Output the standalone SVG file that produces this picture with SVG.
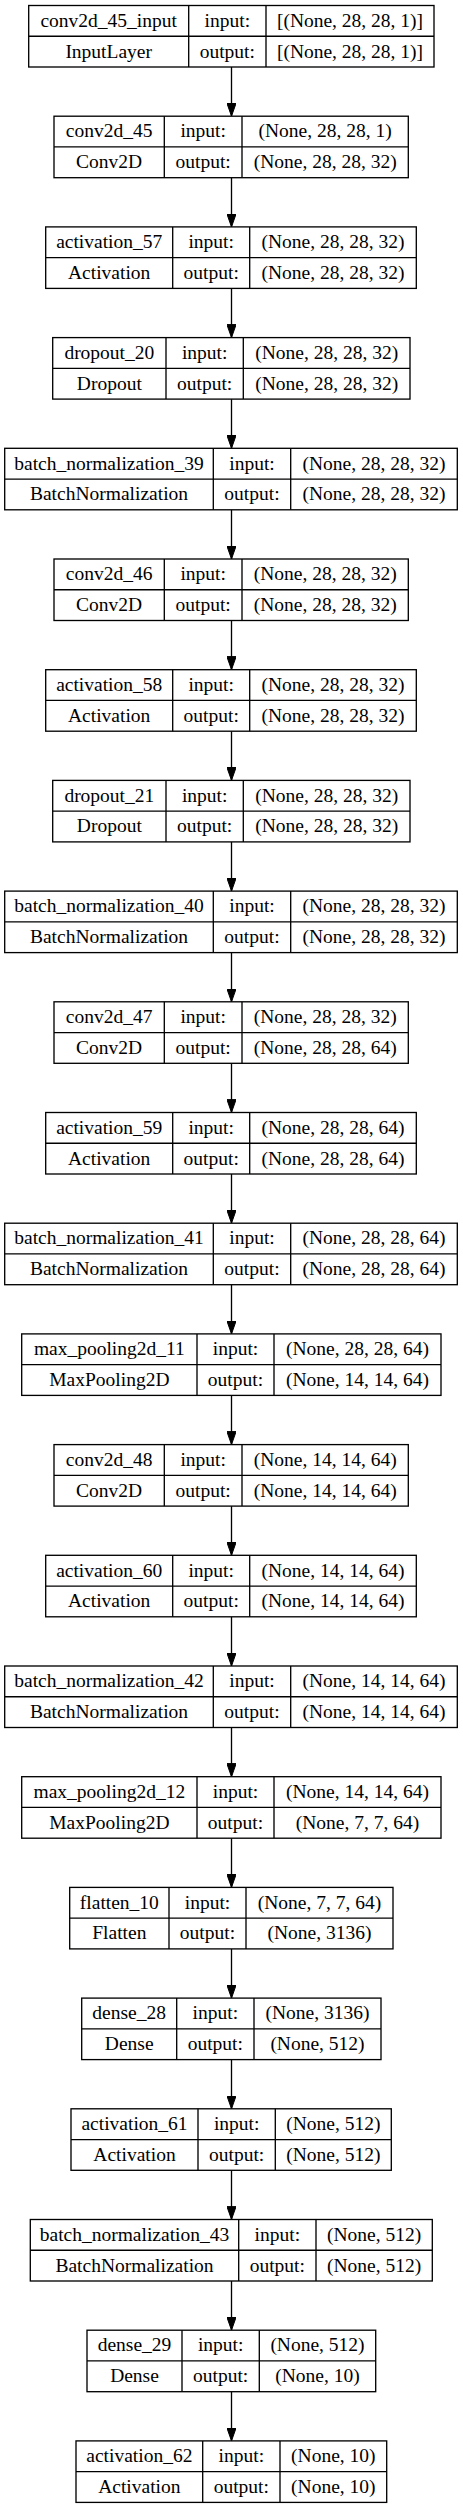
<svg xmlns="http://www.w3.org/2000/svg" width="463" height="2508" viewBox="0 0 463 2508">
<style>
rect.b{fill:#fff;stroke:#000;stroke-width:1.33}
path.d{fill:none;stroke:#000;stroke-width:1.33}
text{font-family:"Liberation Serif","Times New Roman",serif;font-size:19.5px;text-anchor:middle;fill:#000}
.e{stroke:#000;stroke-width:1.33;fill:none}
</style>
<defs>
<marker id="arr" viewBox="0 0 13.3 9.4" refX="13.3" refY="4.7" markerWidth="13.3" markerHeight="9.4" orient="auto" markerUnits="userSpaceOnUse"><path d="M0,0 L13.3,4.7 L0,9.4 z" fill="#000" stroke="#000" stroke-width="1"/></marker>
</defs>
<rect width="463" height="2508" fill="#fff"/>
<g id="connectors">
<line class="e" x1="231.5" y1="67" x2="231.5" y2="116.2" marker-end="url(#arr)"/>
<line class="e" x1="231.5" y1="177.7" x2="231.5" y2="226.9" marker-end="url(#arr)"/>
<line class="e" x1="231.5" y1="288.4" x2="231.5" y2="337.6" marker-end="url(#arr)"/>
<line class="e" x1="231.5" y1="399.1" x2="231.5" y2="448.3" marker-end="url(#arr)"/>
<line class="e" x1="231.5" y1="509.8" x2="231.5" y2="559" marker-end="url(#arr)"/>
<line class="e" x1="231.5" y1="620.5" x2="231.5" y2="669.7" marker-end="url(#arr)"/>
<line class="e" x1="231.5" y1="731.2" x2="231.5" y2="780.4" marker-end="url(#arr)"/>
<line class="e" x1="231.5" y1="841.9" x2="231.5" y2="891.1" marker-end="url(#arr)"/>
<line class="e" x1="231.5" y1="952.6" x2="231.5" y2="1001.8" marker-end="url(#arr)"/>
<line class="e" x1="231.5" y1="1063.3" x2="231.5" y2="1112.5" marker-end="url(#arr)"/>
<line class="e" x1="231.5" y1="1174" x2="231.5" y2="1223.2" marker-end="url(#arr)"/>
<line class="e" x1="231.5" y1="1284.7" x2="231.5" y2="1333.9" marker-end="url(#arr)"/>
<line class="e" x1="231.5" y1="1395.4" x2="231.5" y2="1444.6" marker-end="url(#arr)"/>
<line class="e" x1="231.5" y1="1506.1" x2="231.5" y2="1555.3" marker-end="url(#arr)"/>
<line class="e" x1="231.5" y1="1616.8" x2="231.5" y2="1666" marker-end="url(#arr)"/>
<line class="e" x1="231.5" y1="1727.5" x2="231.5" y2="1776.7" marker-end="url(#arr)"/>
<line class="e" x1="231.5" y1="1838.2" x2="231.5" y2="1887.4" marker-end="url(#arr)"/>
<line class="e" x1="231.5" y1="1948.9" x2="231.5" y2="1998.1" marker-end="url(#arr)"/>
<line class="e" x1="231.5" y1="2059.6" x2="231.5" y2="2108.8" marker-end="url(#arr)"/>
<line class="e" x1="231.5" y1="2170.3" x2="231.5" y2="2219.5" marker-end="url(#arr)"/>
<line class="e" x1="231.5" y1="2281" x2="231.5" y2="2330.2" marker-end="url(#arr)"/>
<line class="e" x1="231.5" y1="2391.7" x2="231.5" y2="2440.9" marker-end="url(#arr)"/>
</g>

<g id="conv2d_45_input" transform="translate(0,5.5)">
<rect class="b" x="28.7" y="0" width="405.3" height="61.5"/>
<path class="d" d="M28.7,30.75H434M188.7,0V61.5M266,0V61.5"/>
<text x="108.7" y="21.3">conv2d_45_input</text><text x="227.35" y="21.3">input:</text><text x="350" y="21.3">[(None, 28, 28, 1)]</text>
<text x="108.7" y="52">InputLayer</text><text x="227.35" y="52">output:</text><text x="350" y="52">[(None, 28, 28, 1)]</text>
</g>

<g id="conv2d_45" transform="translate(0,116.2)">
<rect class="b" x="54" y="0" width="354.3" height="61.5"/>
<path class="d" d="M54,30.75H408.3M164.3,0V61.5M242,0V61.5"/>
<text x="109.15" y="21.3">conv2d_45</text><text x="203.15" y="21.3">input:</text><text x="325.15" y="21.3">(None, 28, 28, 1)</text>
<text x="109.15" y="52">Conv2D</text><text x="203.15" y="52">output:</text><text x="325.15" y="52">(None, 28, 28, 32)</text>
</g>

<g id="activation_57" transform="translate(0,226.9)">
<rect class="b" x="45.7" y="0" width="370.6" height="61.5"/>
<path class="d" d="M45.7,30.75H416.3M172.7,0V61.5M249.7,0V61.5"/>
<text x="109.2" y="21.3">activation_57</text><text x="211.2" y="21.3">input:</text><text x="333" y="21.3">(None, 28, 28, 32)</text>
<text x="109.2" y="52">Activation</text><text x="211.2" y="52">output:</text><text x="333" y="52">(None, 28, 28, 32)</text>
</g>

<g id="dropout_20" transform="translate(0,337.6)">
<rect class="b" x="52.7" y="0" width="357.3" height="61.5"/>
<path class="d" d="M52.7,30.75H410M166,0V61.5M243.3,0V61.5"/>
<text x="109.35" y="21.3">dropout_20</text><text x="204.65" y="21.3">input:</text><text x="326.65" y="21.3">(None, 28, 28, 32)</text>
<text x="109.35" y="52">Dropout</text><text x="204.65" y="52">output:</text><text x="326.65" y="52">(None, 28, 28, 32)</text>
</g>

<g id="batch_normalization_39" transform="translate(0,448.3)">
<rect class="b" x="4.7" y="0" width="452.6" height="61.5"/>
<path class="d" d="M4.7,30.75H457.3M213.3,0V61.5M290.7,0V61.5"/>
<text x="109" y="21.3">batch_normalization_39</text><text x="252" y="21.3">input:</text><text x="374" y="21.3">(None, 28, 28, 32)</text>
<text x="109" y="52">BatchNormalization</text><text x="252" y="52">output:</text><text x="374" y="52">(None, 28, 28, 32)</text>
</g>

<g id="conv2d_46" transform="translate(0,559)">
<rect class="b" x="54" y="0" width="354.3" height="61.5"/>
<path class="d" d="M54,30.75H408.3M164.3,0V61.5M242,0V61.5"/>
<text x="109.15" y="21.3">conv2d_46</text><text x="203.15" y="21.3">input:</text><text x="325.15" y="21.3">(None, 28, 28, 32)</text>
<text x="109.15" y="52">Conv2D</text><text x="203.15" y="52">output:</text><text x="325.15" y="52">(None, 28, 28, 32)</text>
</g>

<g id="activation_58" transform="translate(0,669.7)">
<rect class="b" x="45.7" y="0" width="370.6" height="61.5"/>
<path class="d" d="M45.7,30.75H416.3M172.7,0V61.5M249.7,0V61.5"/>
<text x="109.2" y="21.3">activation_58</text><text x="211.2" y="21.3">input:</text><text x="333" y="21.3">(None, 28, 28, 32)</text>
<text x="109.2" y="52">Activation</text><text x="211.2" y="52">output:</text><text x="333" y="52">(None, 28, 28, 32)</text>
</g>

<g id="dropout_21" transform="translate(0,780.4)">
<rect class="b" x="52.7" y="0" width="357.3" height="61.5"/>
<path class="d" d="M52.7,30.75H410M166,0V61.5M243.3,0V61.5"/>
<text x="109.35" y="21.3">dropout_21</text><text x="204.65" y="21.3">input:</text><text x="326.65" y="21.3">(None, 28, 28, 32)</text>
<text x="109.35" y="52">Dropout</text><text x="204.65" y="52">output:</text><text x="326.65" y="52">(None, 28, 28, 32)</text>
</g>

<g id="batch_normalization_40" transform="translate(0,891.1)">
<rect class="b" x="4.7" y="0" width="452.6" height="61.5"/>
<path class="d" d="M4.7,30.75H457.3M213.3,0V61.5M290.7,0V61.5"/>
<text x="109" y="21.3">batch_normalization_40</text><text x="252" y="21.3">input:</text><text x="374" y="21.3">(None, 28, 28, 32)</text>
<text x="109" y="52">BatchNormalization</text><text x="252" y="52">output:</text><text x="374" y="52">(None, 28, 28, 32)</text>
</g>

<g id="conv2d_47" transform="translate(0,1001.8)">
<rect class="b" x="54" y="0" width="354.3" height="61.5"/>
<path class="d" d="M54,30.75H408.3M164.3,0V61.5M242,0V61.5"/>
<text x="109.15" y="21.3">conv2d_47</text><text x="203.15" y="21.3">input:</text><text x="325.15" y="21.3">(None, 28, 28, 32)</text>
<text x="109.15" y="52">Conv2D</text><text x="203.15" y="52">output:</text><text x="325.15" y="52">(None, 28, 28, 64)</text>
</g>

<g id="activation_59" transform="translate(0,1112.5)">
<rect class="b" x="45.7" y="0" width="370.6" height="61.5"/>
<path class="d" d="M45.7,30.75H416.3M172.7,0V61.5M249.7,0V61.5"/>
<text x="109.2" y="21.3">activation_59</text><text x="211.2" y="21.3">input:</text><text x="333" y="21.3">(None, 28, 28, 64)</text>
<text x="109.2" y="52">Activation</text><text x="211.2" y="52">output:</text><text x="333" y="52">(None, 28, 28, 64)</text>
</g>

<g id="batch_normalization_41" transform="translate(0,1223.2)">
<rect class="b" x="4.7" y="0" width="452.6" height="61.5"/>
<path class="d" d="M4.7,30.75H457.3M213.3,0V61.5M290.7,0V61.5"/>
<text x="109" y="21.3">batch_normalization_41</text><text x="252" y="21.3">input:</text><text x="374" y="21.3">(None, 28, 28, 64)</text>
<text x="109" y="52">BatchNormalization</text><text x="252" y="52">output:</text><text x="374" y="52">(None, 28, 28, 64)</text>
</g>

<g id="max_pooling2d_11" transform="translate(0,1333.9)">
<rect class="b" x="21.7" y="0" width="419.3" height="61.5"/>
<path class="d" d="M21.7,30.75H441M197,0V61.5M274,0V61.5"/>
<text x="109.35" y="21.3">max_pooling2d_11</text><text x="235.5" y="21.3">input:</text><text x="357.5" y="21.3">(None, 28, 28, 64)</text>
<text x="109.35" y="52">MaxPooling2D</text><text x="235.5" y="52">output:</text><text x="357.5" y="52">(None, 14, 14, 64)</text>
</g>

<g id="conv2d_48" transform="translate(0,1444.6)">
<rect class="b" x="54" y="0" width="354.3" height="61.5"/>
<path class="d" d="M54,30.75H408.3M164.3,0V61.5M242,0V61.5"/>
<text x="109.15" y="21.3">conv2d_48</text><text x="203.15" y="21.3">input:</text><text x="325.15" y="21.3">(None, 14, 14, 64)</text>
<text x="109.15" y="52">Conv2D</text><text x="203.15" y="52">output:</text><text x="325.15" y="52">(None, 14, 14, 64)</text>
</g>

<g id="activation_60" transform="translate(0,1555.3)">
<rect class="b" x="45.7" y="0" width="370.6" height="61.5"/>
<path class="d" d="M45.7,30.75H416.3M172.7,0V61.5M249.7,0V61.5"/>
<text x="109.2" y="21.3">activation_60</text><text x="211.2" y="21.3">input:</text><text x="333" y="21.3">(None, 14, 14, 64)</text>
<text x="109.2" y="52">Activation</text><text x="211.2" y="52">output:</text><text x="333" y="52">(None, 14, 14, 64)</text>
</g>

<g id="batch_normalization_42" transform="translate(0,1666)">
<rect class="b" x="4.7" y="0" width="452.6" height="61.5"/>
<path class="d" d="M4.7,30.75H457.3M213.3,0V61.5M290.7,0V61.5"/>
<text x="109" y="21.3">batch_normalization_42</text><text x="252" y="21.3">input:</text><text x="374" y="21.3">(None, 14, 14, 64)</text>
<text x="109" y="52">BatchNormalization</text><text x="252" y="52">output:</text><text x="374" y="52">(None, 14, 14, 64)</text>
</g>

<g id="max_pooling2d_12" transform="translate(0,1776.7)">
<rect class="b" x="21.7" y="0" width="419.3" height="61.5"/>
<path class="d" d="M21.7,30.75H441M197,0V61.5M274,0V61.5"/>
<text x="109.35" y="21.3">max_pooling2d_12</text><text x="235.5" y="21.3">input:</text><text x="357.5" y="21.3">(None, 14, 14, 64)</text>
<text x="109.35" y="52">MaxPooling2D</text><text x="235.5" y="52">output:</text><text x="357.5" y="52">(None, 7, 7, 64)</text>
</g>

<g id="flatten_10" transform="translate(0,1887.4)">
<rect class="b" x="69.7" y="0" width="323.3" height="61.5"/>
<path class="d" d="M69.7,30.75H393M169,0V61.5M246,0V61.5"/>
<text x="119.35" y="21.3">flatten_10</text><text x="207.5" y="21.3">input:</text><text x="319.5" y="21.3">(None, 7, 7, 64)</text>
<text x="119.35" y="52">Flatten</text><text x="207.5" y="52">output:</text><text x="319.5" y="52">(None, 3136)</text>
</g>

<g id="dense_28" transform="translate(0,1998.1)">
<rect class="b" x="81.7" y="0" width="299.3" height="61.5"/>
<path class="d" d="M81.7,30.75H381M176.7,0V61.5M254,0V61.5"/>
<text x="129.2" y="21.3">dense_28</text><text x="215.35" y="21.3">input:</text><text x="317.5" y="21.3">(None, 3136)</text>
<text x="129.2" y="52">Dense</text><text x="215.35" y="52">output:</text><text x="317.5" y="52">(None, 512)</text>
</g>

<g id="activation_61" transform="translate(0,2108.8)">
<rect class="b" x="71" y="0" width="320.3" height="61.5"/>
<path class="d" d="M71,30.75H391.3M198,0V61.5M275.3,0V61.5"/>
<text x="134.5" y="21.3">activation_61</text><text x="236.65" y="21.3">input:</text><text x="333.3" y="21.3">(None, 512)</text>
<text x="134.5" y="52">Activation</text><text x="236.65" y="52">output:</text><text x="333.3" y="52">(None, 512)</text>
</g>

<g id="batch_normalization_43" transform="translate(0,2219.5)">
<rect class="b" x="30.3" y="0" width="402" height="61.5"/>
<path class="d" d="M30.3,30.75H432.3M238.7,0V61.5M316,0V61.5"/>
<text x="134.5" y="21.3">batch_normalization_43</text><text x="277.35" y="21.3">input:</text><text x="374.15" y="21.3">(None, 512)</text>
<text x="134.5" y="52">BatchNormalization</text><text x="277.35" y="52">output:</text><text x="374.15" y="52">(None, 512)</text>
</g>

<g id="dense_29" transform="translate(0,2330.2)">
<rect class="b" x="87" y="0" width="288.7" height="61.5"/>
<path class="d" d="M87,30.75H375.7M182,0V61.5M259.3,0V61.5"/>
<text x="134.5" y="21.3">dense_29</text><text x="220.65" y="21.3">input:</text><text x="317.5" y="21.3">(None, 512)</text>
<text x="134.5" y="52">Dense</text><text x="220.65" y="52">output:</text><text x="317.5" y="52">(None, 10)</text>
</g>

<g id="activation_62" transform="translate(0,2440.9)">
<rect class="b" x="76" y="0" width="310.7" height="61.5"/>
<path class="d" d="M76,30.75H386.7M202.7,0V61.5M280,0V61.5"/>
<text x="139.35" y="21.3">activation_62</text><text x="241.35" y="21.3">input:</text><text x="333.35" y="21.3">(None, 10)</text>
<text x="139.35" y="52">Activation</text><text x="241.35" y="52">output:</text><text x="333.35" y="52">(None, 10)</text>
</g>
</svg>
